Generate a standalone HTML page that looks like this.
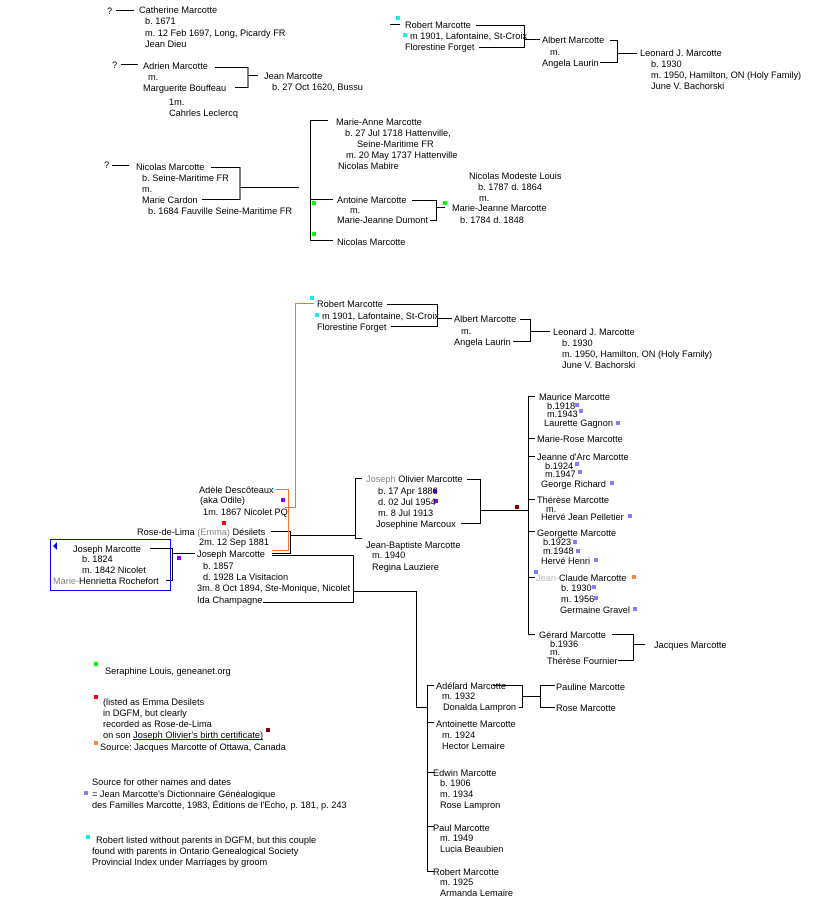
<!DOCTYPE html>
<html><head><meta charset="utf-8"><style>
html,body{margin:0;padding:0;background:#fff;width:821px;height:909px;overflow:hidden}
svg text{font-family:"Liberation Sans",sans-serif;font-size:9.2px;fill:#000}
.g{fill:#888}.lg{fill:#bbb}
</style></head><body>
<svg width="821" height="909" xmlns="http://www.w3.org/2000/svg">
<g stroke="#000" stroke-width="1" fill="none" shape-rendering="crispEdges">
<path d="M116 10.5H134"/>
<path d="M121 64.5H138M215 67.5H248V87.5H235M248 75.5H258"/>
<path d="M112 165.5H129M211 167.5H240V199.5H202M240 187.5H299"/>
<path d="M328 120.5H310.5V240.5H333M310 199.5H333"/>
<path d="M412 200.5H436.5V220.5H430M436 207.5H445"/>
<path d="M390 24.5H400M476 25.5H524.5V47.5H479M524 39.5H540M610 40.5H617.5V62.5H600M617 53.5H637"/>
<path d="M387 304.5H437.5V326.5H391M437 318.5H452M520 319.5H530.5V341.5H513M530 331.5H550"/>
<path d="M150 548.5H172.5V580.5H166M172 553.5H195"/>
<path d="M271 531.5H290.5V553.5H272M290 535.5H355.5M362 478.5H355.5V538.5H362"/>
<path d="M467 479.5H480.5V523.5H461M480 510.5H528"/>
<path d="M535 396.5H528.5V634.5H535M528 438.5H535M528 456.5H535M528 499.5H535M528 531.5H535M528 577.5H535"/>
<path d="M612 634.5H633.5V660.5H618M633 644.5H645"/>
<path d="M272 555.5H353.5V602.5H263M353 591.5H416.5V707.5H427.5M434 685.5H427.5V871.5H434M427 722.5H434M427 772.5H434M427 826.5H434"/>
<path d="M493 685.5H522.5V707.5H519M522 696.5H540.5M555 685.5H540.5V707.5H555"/>
</g>
<g stroke="#ff7030" fill="none" shape-rendering="crispEdges">
<path d="M314 303.5H295.5V507.5H285M276 489.5H288.5V550.5H272"/>
</g>
<rect x="50.5" y="539.5" width="120" height="51" fill="none" stroke="#00f" stroke-width="1" shape-rendering="crispEdges"/>
<path d="M57 542L53 546L57 550Z" fill="#00f"/>
<g shape-rendering="crispEdges">
<rect x="396" y="16" width="4" height="4" fill="#1ee"/><rect x="403" y="33" width="4" height="4" fill="#1ee"/>
<rect x="310" y="296" width="4" height="4" fill="#1ee"/><rect x="315" y="313" width="4" height="4" fill="#1ee"/>
<rect x="86" y="835" width="4" height="4" fill="#1ee"/>
<rect x="312" y="201" width="4" height="4" fill="#0f0"/><rect x="312" y="232" width="4" height="4" fill="#0f0"/>
<rect x="443" y="201" width="4" height="4" fill="#0f0"/><rect x="94" y="662" width="4" height="4" fill="#0f0"/>
<rect x="281" y="498" width="4" height="4" fill="#80f"/><rect x="177" y="556" width="4" height="4" fill="#80f"/>
<rect x="433" y="489" width="4" height="4" fill="#80f"/><rect x="434" y="499" width="4" height="4" fill="#80f"/>
<rect x="222" y="521" width="4" height="4" fill="#f00"/><rect x="94" y="695" width="4" height="4" fill="#f00"/>
<rect x="515" y="505" width="4" height="4" fill="#800000"/><rect x="266" y="728" width="4" height="4" fill="#800000"/>
<rect x="94" y="741" width="4" height="4" fill="#ff8040"/><rect x="632" y="575" width="4" height="4" fill="#ff8040"/>
<g fill="#8080ff">
<rect x="575" y="403" width="4" height="4"/><rect x="579" y="409" width="4" height="4"/><rect x="616" y="421" width="4" height="4"/>
<rect x="575" y="462" width="4" height="4"/><rect x="578" y="470" width="4" height="4"/><rect x="610" y="481" width="4" height="4"/>
<rect x="628" y="514" width="4" height="4"/><rect x="573" y="540" width="4" height="4"/><rect x="576" y="549" width="4" height="4"/>
<rect x="594" y="558" width="4" height="4"/><rect x="534" y="570" width="4" height="4"/><rect x="592" y="585" width="4" height="4"/>
<rect x="594" y="596" width="4" height="4"/><rect x="633" y="607" width="4" height="4"/><rect x="84" y="791" width="4" height="4"/>
</g></g>
<g>
<text x="107" y="14">?</text>
<text x="139" y="13">Catherine Marcotte</text><text x="145" y="24">b. 1671</text><text x="145" y="36">m.  12 Feb 1697, Long, Picardy FR</text><text x="145" y="47">Jean Dieu</text>
<text x="112" y="68">?</text>
<text x="143" y="69">Adrien Marcotte</text><text x="148" y="80">m.</text><text x="143" y="91">Marguerite Bouffeau</text>
<text x="264" y="79">Jean Marcotte</text><text x="272" y="90">b. 27 Oct 1620, Bussu</text>
<text x="169" y="105">1m.</text><text x="169" y="116">Cahrles Leclercq</text>
<text x="104" y="168">?</text>
<text x="136" y="170">Nicolas Marcotte</text><text x="142" y="181">b. Seine-Maritime FR</text><text x="142" y="192">m.</text><text x="142" y="203">Marie Cardon</text><text x="148" y="214">b. 1684 Fauville Seine-Maritime FR</text>
<text x="336" y="125">Marie-Anne Marcotte</text><text x="345" y="136">b. 27 Jul 1718 Hattenville,</text><text x="357" y="147">Seine-Maritime FR</text><text x="346" y="158">m. 20 May 1737 Hattenville</text><text x="338" y="169">Nicolas Mabire</text>
<text x="337" y="203">Antoine Marcotte</text><text x="350" y="213">m.</text><text x="337" y="223">Marie-Jeanne Dumont</text>
<text x="337" y="245">Nicolas Marcotte</text>
<text x="469" y="179">Nicolas Modeste Louis</text><text x="478" y="190">b. 1787  d. 1864</text><text x="479" y="201">m.</text><text x="452" y="211">Marie-Jeanne Marcotte</text><text x="460" y="223">b. 1784  d. 1848</text>
<text x="405" y="28">Robert Marcotte</text><text x="410" y="39">m 1901, Lafontaine, St-Croix</text><text x="405" y="50">Florestine Forget</text>
<text x="542" y="43">Albert Marcotte</text><text x="550" y="55">m.</text><text x="542" y="66">Angela Laurin</text>
<text x="640" y="56">Leonard  J. Marcotte</text><text x="651" y="67">b. 1930</text><text x="651" y="78">m. 1950, Hamilton, ON (Holy Family)</text><text x="651" y="89">June V. Bachorski</text>
<text x="317" y="307">Robert Marcotte</text><text x="322" y="319">m 1901, Lafontaine, St-Croix</text><text x="317" y="330">Florestine Forget</text>
<text x="454" y="322">Albert Marcotte</text><text x="461" y="334">m.</text><text x="454" y="345">Angela Laurin</text>
<text x="553" y="335">Leonard  J. Marcotte</text><text x="562" y="346">b. 1930</text><text x="562" y="357">m. 1950, Hamilton, ON (Holy Family)</text><text x="562" y="368">June V. Bachorski</text>
<text x="199" y="493">Adèle Descôteaux</text><text x="200" y="503">(aka Odile)</text><text x="203" y="515">1m. 1867 Nicolet PQ</text>
<text x="137" y="535">Rose-de-Lima <tspan class="g">(Emma)</tspan> Désilets</text><text x="199" y="545">2m. 12 Sep 1881</text>
<text x="197" y="557">Joseph Marcotte</text><text x="203" y="569">b. 1857</text><text x="203" y="580">d. 1928 La Visitacion</text><text x="197" y="591">3m. 8 Oct 1894, Ste-Monique, Nicolet</text><text x="197" y="603">Ida Champagne</text>
<text x="73" y="552">Joseph Marcotte</text><text x="82" y="562">b. 1824</text><text x="82" y="573">m. 1842 Nicolet</text><text x="53" y="584"><tspan class="g">Marie-</tspan>Henrietta Rochefort</text>
<text x="366" y="482"><tspan class="g">Joseph</tspan> Olivier Marcotte</text><text x="378" y="494">b. 17 Apr 1886</text><text x="378" y="505">d. 02 Jul 1954</text><text x="378" y="516">m. 8 Jul 1913</text><text x="376" y="527">Josephine Marcoux</text>
<text x="366" y="548">Jean-Baptiste Marcotte</text><text x="372" y="558">m. 1940</text><text x="372" y="570">Regina Lauziere</text>
<text x="539" y="400">Maurice Marcotte</text><text x="547" y="409">b.1918</text><text x="547" y="417">m.1943</text><text x="544" y="426">Laurette Gagnon</text>
<text x="537" y="442">Marie-Rose Marcotte</text>
<text x="537" y="460">Jeanne d'Arc Marcotte</text><text x="545" y="469">b.1924</text><text x="545" y="477">m.1947</text><text x="541" y="487">George Richard</text>
<text x="537" y="503">Thérèse Marcotte</text><text x="546" y="512">m.</text><text x="541" y="520">Hervé Jean Pelletier</text>
<text x="537" y="536">Georgette Marcotte</text><text x="543" y="545">b.1923</text><text x="543" y="554">m.1948</text><text x="541" y="564">Hervé Henri</text>
<text x="536" y="581"><tspan class="lg">Jean-</tspan>Claude Marcotte</text><text x="561" y="591">b. 1930</text><text x="561" y="602">m. 1956</text><text x="560" y="613">Germaine Gravel</text>
<text x="539" y="638">Gérard Marcotte</text><text x="550" y="647">b.1936</text><text x="550" y="655">m.</text><text x="547" y="664">Thérèse Fournier</text>
<text x="654" y="648">Jacques Marcotte</text>
<text x="436" y="689">Adélard Marcotte</text><text x="442" y="699">m. 1932</text><text x="443" y="710">Donalda Lampron</text>
<text x="556" y="690">Pauline Marcotte</text><text x="556" y="711">Rose Marcotte</text>
<text x="436" y="727">Antoinette Marcotte</text><text x="442" y="738">m. 1924</text><text x="442" y="749">Hector Lemaire</text>
<text x="433" y="776">Edwin Marcotte</text><text x="440" y="786">b. 1906</text><text x="440" y="797">m. 1934</text><text x="440" y="808">Rose Lampron</text>
<text x="433" y="831">Paul Marcotte</text><text x="440" y="841">m. 1949</text><text x="440" y="852">Lucia Beaubien</text>
<text x="433" y="875">Robert Marcotte</text><text x="440" y="885">m. 1925</text><text x="440" y="896">Armanda Lemaire</text>
<text x="105" y="674">Seraphine Louis, geneanet.org</text>
<text x="103" y="705">(listed as Emma Desilets</text><text x="103" y="716">in DGFM, but clearly</text><text x="103" y="727">recorded as Rose-de-Lima</text>
<text x="103" y="738">on son Joseph Olivier's birth certificate)</text>
<text x="100" y="750">Source: Jacques Marcotte of Ottawa, Canada</text>
<text x="92" y="785">Source for other names and dates</text><text x="92" y="797">= Jean Marcotte's Dictionnaire Généalogique</text><text x="92" y="808">des Familles Marcotte, 1983, Éditions de l'Echo, p. 181, p. 243</text>
<text x="96" y="843">Robert listed without parents in DGFM, but this couple</text><text x="92" y="854">found with parents in Ontario Genealogical Society</text><text x="92" y="865">Provincial Index under Marriages by groom</text>
</g>
<path d="M133 739.5H263" stroke="#00f" shape-rendering="crispEdges"/>
</svg>
</body></html>
